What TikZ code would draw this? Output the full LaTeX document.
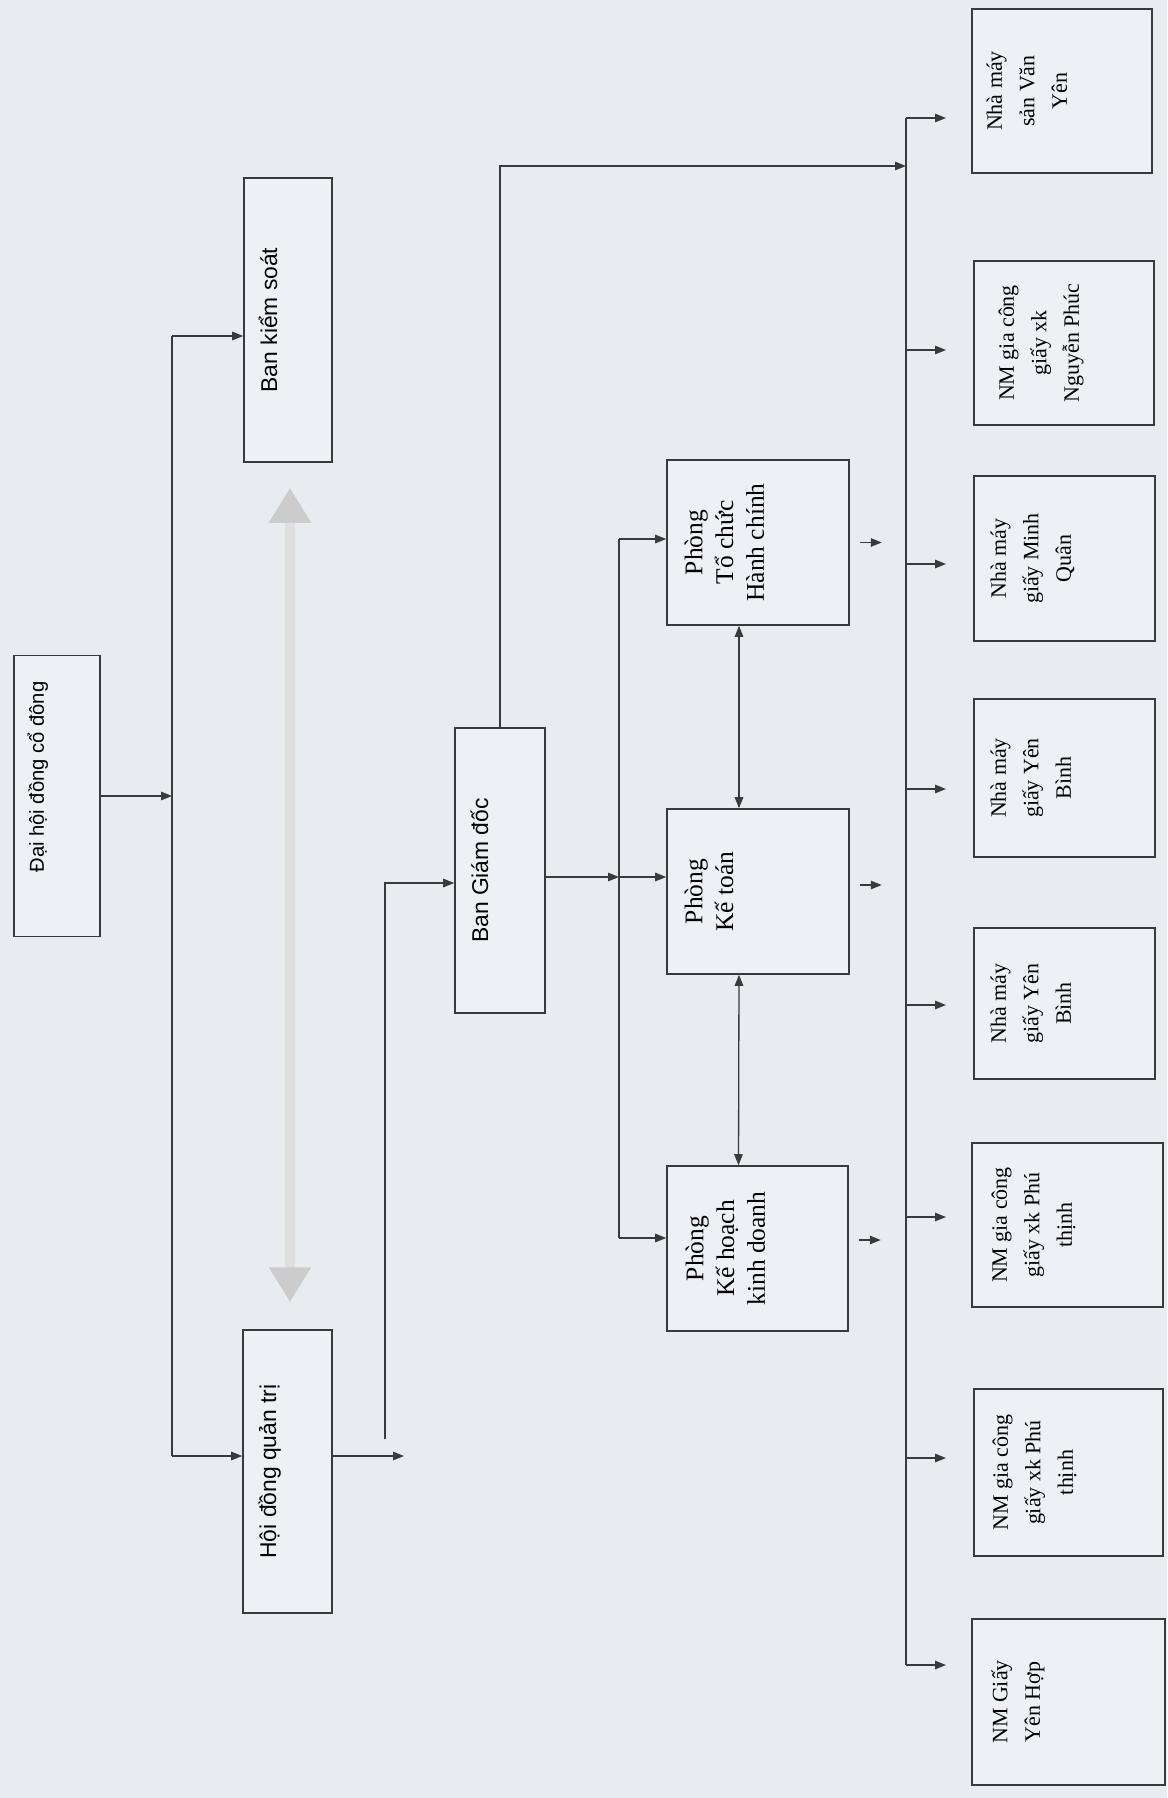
\documentclass[tikz,border=0pt]{standalone}
\usepackage{fontspec}
\setmainfont{Liberation Serif}
\setsansfont{Liberation Sans}
\usetikzlibrary{arrows.meta}
\definecolor{paper}{RGB}{232,236,241}
\definecolor{boxfill}{RGB}{237,240,245}
\definecolor{ink}{RGB}{58,58,62}

\begin{document}
\begin{tikzpicture}[x=0.02cm, y=-0.02cm,
    box/.style={draw=ink, line width=0.9pt, fill=boxfill, inner sep=0pt},
    board/.style={box, minimum width=1.76cm, minimum height=5.68cm},
    dept/.style={box, minimum width=3.64cm, minimum height=3.3cm},
    plant/.style={box, minimum width=3.62cm, minimum height=3.28cm},
    boardtext/.style={rotate=90, anchor=north, inner sep=0pt,
        font=\sffamily\fontsize{13}{16}\selectfont},
    depttext/.style={rotate=90, anchor=north, inner sep=0pt, align=center,
        font=\fontsize{14.5}{17.5}\selectfont},
    planttext/.style={rotate=90, anchor=north, inner sep=0pt, align=center,
        font=\fontsize{12.5}{18.5}\selectfont},
    wire/.style={draw=ink, line width=0.75pt},
    link/.style={wire, -{Triangle[length=0.22cm, width=0.17cm]}},
    twoway/.style={wire, {Triangle[length=0.22cm, width=0.17cm]}-{Triangle[length=0.22cm, width=0.17cm]}},
    bigarrow/.style={draw=gray!25, line width=0.2cm,
        {Triangle[length=0.7cm, width=0.8cm, fill=gray!40, color=gray!40]}-{Triangle[length=0.7cm, width=0.8cm, fill=gray!40, color=gray!40]}},
]
    \useasboundingbox (0,0) rectangle (1167,1798);
    \fill[paper] (0,0) rectangle (1167,1798);

    % Shareholders and boards
    \node[board, minimum width=1.72cm, minimum height=5.62cm] (dhcd) at (57,796) {};
    \node[boardtext, font=\sffamily\fontsize{11.5}{14}\selectfont] (dhcd-t) at ([xshift=0.28cm, yshift=0.38cm]dhcd.west) {Đại hội đồng cổ đông};
    \node[board] (bks) at (288,320) {};
    \node[boardtext] (bks-t) at ([xshift=0.3cm]bks.west) {Ban kiểm soát};
    \node[board, minimum width=1.78cm, minimum height=5.66cm] (hdqt) at (287.5,1471.5) {};
    \node[boardtext] (hdqt-t) at ([xshift=0.32cm]hdqt.west) {Hội đồng quản trị};
    \node[board, minimum width=1.8cm, minimum height=5.7cm] (bgd) at (500,870.5) {};
    \node[boardtext] (bgd-t) at ([xshift=0.32cm]bgd.west) {Ban Giám đốc};

    % Departments
    \node[dept] (tchc) at (758,542.5) {};
    \node[depttext] (tchc-t) at ([xshift=0.36cm]tchc.west) {Phòng\\Tổ chức\\Hành chính};
    \node[dept] (ketoan) at (758,891.5) {};
    \node[depttext] (ketoan-t) at ([xshift=0.36cm]ketoan.west) {Phòng\\Kế toán};
    \node[dept, minimum width=3.62cm] (khkd) at (757.5,1248.5) {};
    \node[depttext] (khkd-t) at ([xshift=0.38cm]khkd.west) {Phòng\\Kế hoạch\\kinh doanh};

    % Plants
    \node[plant, minimum width=3.6cm] (nmA) at (1062,91) {};
    \node[planttext] (nmA-t) at ([xshift=0.3cm]nmA.west) {Nhà máy\\sản Văn\\Yên};
    \node[plant, minimum width=3.6cm] (nmB) at (1064,343) {};
    \node[planttext] (nmB-t) at ([xshift=0.5cm]nmB.west) {NM gia công\\giấy xk\\Nguyễn Phúc};
    \node[plant, minimum height=3.3cm] (nmC) at (1064.5,558.5) {};
    \node[planttext] (nmC-t) at ([xshift=0.34cm]nmC.west) {Nhà máy\\giấy Minh\\Quân};
    \node[plant, minimum height=3.16cm] (nmD) at (1064.5,778) {};
    \node[planttext] (nmD-t) at ([xshift=0.34cm]nmD.west) {Nhà máy\\giấy Yên\\Bình};
    \node[plant, minimum height=3.02cm] (nmE) at (1064.5,1003.5) {};
    \node[planttext] (nmE-t) at ([xshift=0.34cm]nmE.west) {Nhà máy\\giấy Yên\\Bình};
    \node[plant, minimum width=3.82cm] (nmF) at (1067.5,1225) {};
    \node[planttext] (nmF-t) at ([xshift=0.4cm]nmF.west) {NM gia công\\giấy xk Phú\\thịnh};
    \node[plant, minimum width=3.78cm, minimum height=3.34cm] (nmG) at (1068.5,1472.5) {};
    \node[planttext] (nmG-t) at ([xshift=0.38cm]nmG.west) {NM gia công\\giấy xk Phú\\thịnh};
    \node[plant, minimum width=3.86cm, minimum height=3.32cm] (nmH) at (1068.5,1702) {};
    \node[planttext] (nmH-t) at ([xshift=0.4cm]nmH.west) {NM Giấy\\Yên Hợp};

    % Shareholders to boards
    \coordinate (gm) at (172,796);
    \coordinate (gmtop) at (172,336);
    \coordinate (gmbot) at (172,1456);
    \draw[link] (dhcd.east) -- (gm);
    \draw[wire] (gmtop) -- (gmbot);
    \draw[link] (gmtop) -- (gmtop -| bks.west);
    \draw[link] (gmbot) -- (gmbot -| hdqt.west);
    \draw[bigarrow] ([xshift=0.04cm, yshift=-0.5cm]bks.south) -- ([xshift=0.05cm, yshift=0.54cm]hdqt.north);

    % Board to directors
    \coordinate (hq) at (404,1456);
    \coordinate (dirbot) at (385,1439);
    \coordinate (dirtop) at (385,883);
    \draw[link] (hdqt.east |- gmbot) -- (hq);
    \draw[link] (dirbot) |- (bgd.west |- dirtop);

    % Directors to plants
    \coordinate (bustop) at (906,118);
    \coordinate (busbot) at (906,1665);
    \coordinate (busin) at (906,166);
    \draw[wire] (bustop) -- (busbot);
    \draw[link] (bgd.north) |- (busin);
    \foreach \n/\y in {nmA/118, nmB/350, nmC/564, nmD/789, nmE/1005, nmF/1217, nmG/1458, nmH/1665}{
        \coordinate (\n-in) at (946,\y);
        \draw[link] (bustop |- \n-in) -- (\n-in);
    }

    % Directors to departments
    \coordinate (deptop) at (619,539);
    \coordinate (depmid) at (619,877);
    \coordinate (depbot) at (619,1238);
    \draw[link] (bgd.east |- depmid) -- (depmid);
    \draw[wire] (deptop) -- (depbot);
    \draw[link] (deptop) -- (deptop -| tchc.west);
    \draw[link] (depmid) -- (depmid -| ketoan.west);
    \draw[link] (depbot) -- (depbot -| khkd.west);
    \draw[twoway] ([xshift=-0.38cm]tchc.south) -- ([xshift=-0.38cm]ketoan.north);
    \draw[twoway] ([xshift=-0.38cm]ketoan.south) -- ([xshift=-0.38cm]khkd.north);
    \draw[link] ([xshift=0.2cm]tchc.east) -- ++(0.44cm,0);
    \draw[link] ([xshift=0.2cm, yshift=0.13cm]ketoan.east) -- ++(0.44cm,0);
    \draw[link] ([xshift=0.2cm, yshift=0.17cm]khkd.east) -- ++(0.44cm,0);
\end{tikzpicture}
\end{document}
